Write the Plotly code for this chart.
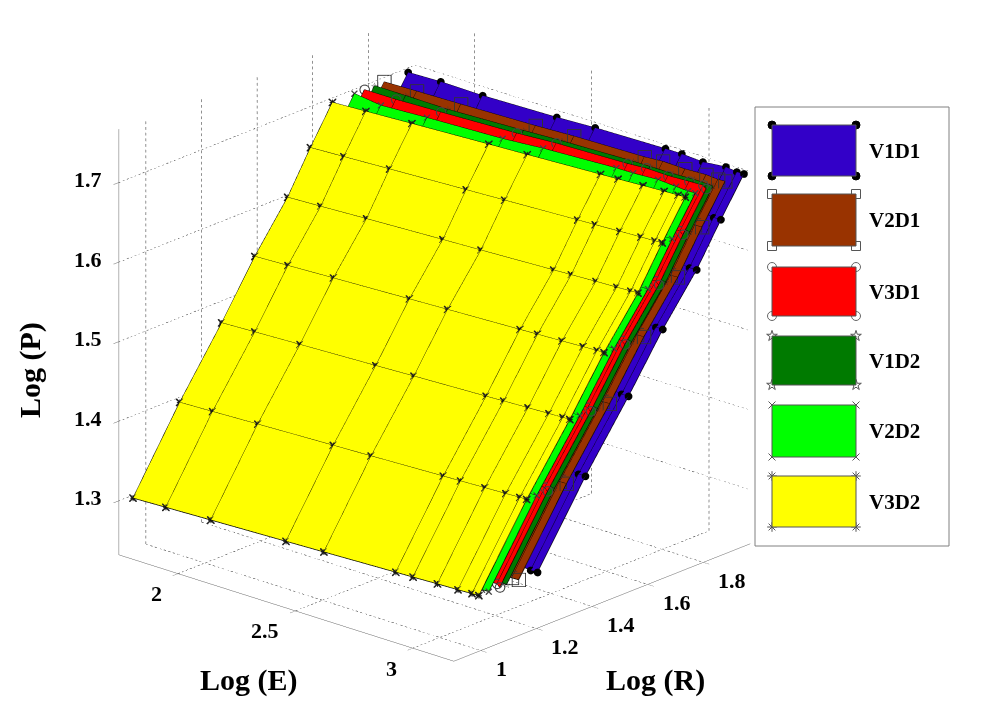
# plot.py
# Log(P) surfaces over Log(E) and Log(R), one per V/D combination

import numpy as np
import plotly.graph_objects as go

# ── DATA ──────────────────────────────────────────────────────────────────────

LOG_E = [1.77, 1.903, 2.085, 2.39, 2.543, 2.834, 2.904, 3.002, 3.086, 3.142, 3.17]
LOG_P = [1.301, 1.398, 1.477, 1.544, 1.602, 1.653, 1.699]

# Log(R) of the front surface, one row per Log(P) value
LOG_R_V3D2 = [
    [0.935, 0.941, 0.949, 0.962, 0.969, 0.982, 0.985, 0.990, 0.993, 0.996, 0.997],
    [1.103, 1.109, 1.118, 1.132, 1.139, 1.153, 1.156, 1.161, 1.165, 1.168, 1.169],
    [1.254, 1.261, 1.270, 1.285, 1.293, 1.307, 1.311, 1.316, 1.320, 1.323, 1.324],
    [1.373, 1.380, 1.390, 1.406, 1.414, 1.429, 1.433, 1.438, 1.443, 1.446, 1.447],
    [1.491, 1.498, 1.509, 1.526, 1.534, 1.550, 1.554, 1.560, 1.564, 1.567, 1.569],
    [1.573, 1.581, 1.592, 1.610, 1.619, 1.636, 1.640, 1.646, 1.651, 1.654, 1.656],
    [1.652, 1.660, 1.672, 1.691, 1.700, 1.718, 1.722, 1.729, 1.734, 1.737, 1.739],
]

# how far each other surface sits behind the front one, per Log(E) column
GAP_V1D1 = [0.272, 0.269, 0.254, 0.244, 0.244, 0.233, 0.229, 0.215, 0.222, 0.211, 0.211]
GAP_V2D1 = [0.186, 0.183, 0.176, 0.168, 0.168, 0.158, 0.161, 0.151, 0.151, 0.143, 0.143]
GAP_V1D2 = [0.151, 0.143, 0.129, 0.125, 0.125, 0.118, 0.115, 0.108, 0.108, 0.104, 0.100]
GAP_V3D1 = [0.115, 0.108, 0.104, 0.100, 0.104, 0.097, 0.100, 0.090, 0.090, 0.090, 0.075]
GAP_V2D2 = [0.079, 0.054, 0.054, 0.050, 0.057, 0.057, 0.054, 0.054, 0.043, 0.036, 0.036]
GAP_V3D2 = [0.0] * 11

E_TICKS = [2, 2.5, 3]
R_TICKS = [1, 1.2, 1.4, 1.6, 1.8]
P_TICKS = [1.3, 1.4, 1.5, 1.6, 1.7]

E_RANGE = [1.748, 3.175]
R_RANGE = [0.903, 1.968]
P_RANGE = [1.232, 1.767]

LEGEND_NAMES = ["V1D1", "V2D1", "V3D1", "V1D2", "V2D2", "V3D2"]
COLORS = {
    "V1D1": "#3300C8",
    "V2D1": "#993300",
    "V3D1": "#FF0000",
    "V1D2": "#007A00",
    "V2D2": "#00FF00",
    "V3D2": "#FFFF00",
}
GAPS = {
    "V1D1": GAP_V1D1,
    "V2D1": GAP_V2D1,
    "V3D1": GAP_V3D1,
    "V1D2": GAP_V1D2,
    "V2D2": GAP_V2D2,
    "V3D2": GAP_V3D2,
}

# legend swatches in page pixels
SWATCH_X = [772, 856]
SWATCH_Y = [(125, 176), (194, 246), (267, 316), (336, 385), (405, 457), (476, 527)]

FONT = "Liberation Serif"
GRID = "#222222"
AXIS = "#666666"

# ── HELPERS ───────────────────────────────────────────────────────────────────


def mesh_xyz(ee, rr, pp):
    """Wire lines along both grid directions, split with None."""
    xs, ys, zs = [], [], []
    for i in range(ee.shape[0]):
        xs += list(ee[i]) + [None]
        ys += list(rr[i]) + [None]
        zs += list(pp[i]) + [None]
    for j in range(ee.shape[1]):
        xs += list(ee[:, j]) + [None]
        ys += list(rr[:, j]) + [None]
        zs += list(pp[:, j]) + [None]
    return xs, ys, zs


def grid_xyz(pieces=75):
    """Dotted grid on the floor and the two back walls, as short separate strokes."""
    xs, ys, zs = [], [], []

    def seg(a, b):
        for k in range(pieces):
            t0 = k / pieces
            t1 = (k + 0.5) / pieces
            for t in (t0, t1):
                xs.append(a[0] + (b[0] - a[0]) * t)
                ys.append(a[1] + (b[1] - a[1]) * t)
                zs.append(a[2] + (b[2] - a[2]) * t)
            xs.append(None)
            ys.append(None)
            zs.append(None)

    e0, e1 = E_RANGE
    r0, r1 = R_RANGE
    p0, p1 = P_RANGE
    for e in E_TICKS:
        seg((e, r0, p0), (e, r1, p0))
        seg((e, r1, p0), (e, r1, p1))
    for r in R_TICKS:
        seg((e0, r, p0), (e1, r, p0))
        seg((e0, r, p0), (e0, r, p1))
    for p in P_TICKS:
        seg((e0, r0, p), (e0, r1, p))
        seg((e0, r1, p), (e1, r1, p))
    return xs, ys, zs


def add_markers(fig, name, ee, rr, pp):
    """Corner markers of one surface, at every grid point."""
    base = dict(x=ee.ravel(), y=rr.ravel(), z=pp.ravel(), showlegend=False, hoverinfo="skip")
    if name == "V1D1":
        fig.add_trace(go.Scatter3d(mode="markers", marker=dict(symbol="circle", size=4.5, color="black"), **base))
    elif name == "V2D1":
        fig.add_trace(go.Scatter3d(mode="markers", marker=dict(symbol="square-open", size=6, color="#333333"), **base))
    elif name == "V3D1":
        fig.add_trace(go.Scatter3d(mode="markers", marker=dict(symbol="circle-open", size=6, color="#444444"), **base))
    elif name == "V1D2":
        fig.add_trace(go.Scatter3d(
            mode="text", text=["☆"] * ee.size, textposition="middle center",
            textfont=dict(size=9, color="#333333"), **base,
        ))
    elif name == "V2D2":
        fig.add_trace(go.Scatter3d(mode="markers", marker=dict(symbol="x", size=1.5, color="#444444"), **base))
    else:
        fig.add_trace(go.Scatter3d(mode="markers", marker=dict(symbol="x", size=1.8, color="#222222"), **base))
        fig.add_trace(go.Scatter3d(
            mode="text", text=["+"] * ee.size, textposition="middle center",
            textfont=dict(family="Liberation Sans", size=12, color="#111111"), **base,
        ))


# ── FIGURE ────────────────────────────────────────────────────────────────────

fig = go.Figure()

ee, pp = np.meshgrid(LOG_E, LOG_P)
rr_front = np.array(LOG_R_V3D2)

gx, gy, gz = grid_xyz()
fig.add_trace(go.Scatter3d(
    x=gx, y=gy, z=gz, mode="lines",
    line=dict(color=GRID, width=1),
    showlegend=False, hoverinfo="skip",
))

for name in LEGEND_NAMES:
    rr = rr_front + np.array(GAPS[name])
    color = COLORS[name]
    fig.add_trace(go.Surface(
        x=ee, y=rr, z=pp,
        surfacecolor=np.zeros_like(pp),
        colorscale=[[0, color], [1, color]],
        showscale=False,
        lighting=dict(ambient=1, diffuse=0, specular=0, roughness=1, fresnel=0),
        hoverinfo="skip",
    ))
    mx, my, mz = mesh_xyz(ee, rr, pp)
    fig.add_trace(go.Scatter3d(
        x=mx, y=my, z=mz, mode="lines",
        line=dict(color="black", width=1.5),
        showlegend=False, hoverinfo="skip",
    ))
    add_markers(fig, name, ee, rr, pp)

# legend corners, drawn in page pixels on a hidden 2D axis
for (name, (y0, y1)) in zip(LEGEND_NAMES, SWATCH_Y):
    sym = {
        "V1D1": ("circle", 8, "black"),
        "V2D1": ("square-open", 9, "#555555"),
        "V3D1": ("circle-open", 9, "#666666"),
        "V1D2": ("star-open", 8, "#555555"),
        "V2D2": ("x-thin-open", 7, "#555555"),
        "V3D2": ("asterisk-open", 8, "#555555"),
    }[name]
    fig.add_shape(
        type="rect", xref="x", yref="y",
        x0=SWATCH_X[0], x1=SWATCH_X[1], y0=y0, y1=y1,
        fillcolor=COLORS[name], line=dict(color="#555555", width=1),
    )
    fig.add_trace(go.Scatter(
        x=[SWATCH_X[0], SWATCH_X[1], SWATCH_X[0], SWATCH_X[1]],
        y=[y0, y0, y1, y1],
        mode="markers",
        marker=dict(symbol=sym[0], size=sym[1], color=sym[2], line=dict(color=sym[2], width=1)),
        showlegend=False, hoverinfo="skip",
    ))
    fig.add_annotation(
        xref="x", yref="y", x=867, y=(y0 + y1) / 2, text=f"<b>{name}</b>",
        showarrow=False, xanchor="left", yanchor="middle",
        font=dict(family=FONT, size=21, color="black"),
    )

fig.add_shape(
    type="rect", xref="x", yref="y", x0=755, x1=949, y0=107, y1=546,
    line=dict(color="#808080", width=1), layer="below",
)

tick_font = dict(family=FONT, size=22, color="black")
scene_notes = []
for e in E_TICKS:
    scene_notes.append(dict(
        x=e, y=R_RANGE[0], z=P_RANGE[0], text=f"<b>{e}</b>", showarrow=False,
        xanchor="right", xshift=-14, yshift=-20, font=tick_font,
    ))
for r in R_TICKS:
    scene_notes.append(dict(
        x=E_RANGE[1], y=r, z=P_RANGE[0], text=f"<b>{r}</b>", showarrow=False,
        xanchor="left", xshift=13, yshift=-18, font=tick_font,
    ))
for p in P_TICKS:
    scene_notes.append(dict(
        x=E_RANGE[0], y=R_RANGE[0], z=p, text=f"<b>{p}</b>", showarrow=False,
        xshift=-31, yshift=3, font=tick_font,
    ))


def scene_axis(rng, ticks):
    return dict(
        range=rng, tickvals=ticks, showticklabels=False, title="",
        showgrid=False, zeroline=False, showbackground=False, showspikes=False,
        showline=True, linecolor=AXIS, linewidth=1,
        ticks="outside", ticklen=8, tickcolor=AXIS,
    )


title_font = dict(family=FONT, size=30, color="black")
for text, px, py, angle in [
    ("Log (E)", 249, 680, 0),
    ("Log (R)", 655, 680, 0),
    ("Log (P)", 30, 370, -90),
]:
    fig.add_annotation(
        xref="x", yref="y", x=px, y=py, text=f"<b>{text}</b>", textangle=angle,
        showarrow=False, font=title_font,
    )

fig.update_layout(
    width=1000,
    height=722,
    margin=dict(l=0, r=0, t=0, b=0),
    paper_bgcolor="white",
    plot_bgcolor="rgba(0,0,0,0)",
    showlegend=False,
    xaxis=dict(range=[0, 1000], visible=False, domain=[0, 1]),
    yaxis=dict(range=[722, 0], visible=False, domain=[0, 1]),
    scene=dict(
        domain=dict(x=[0, 0.869], y=[0.068, 1]),
        aspectmode="manual",
        aspectratio=dict(x=1.336, y=1.32, z=1.353),
        xaxis=scene_axis(E_RANGE, E_TICKS),
        yaxis=scene_axis(R_RANGE, R_TICKS),
        zaxis=scene_axis(P_RANGE, P_TICKS),
        bgcolor="rgba(0,0,0,0)",
        annotations=scene_notes,
        camera=dict(
            projection=dict(type="orthographic"),
            eye=dict(x=0.624 * 1.6, y=-0.697 * 1.6, z=0.355 * 1.6),
            up=dict(x=0, y=0, z=1),
            center=dict(x=0, y=0, z=0),
        ),
    ),
)

fig.write_html(
    "out.html",
    config=dict(displayModeBar=False),
    post_script="document.body.style.margin='0';",
)
